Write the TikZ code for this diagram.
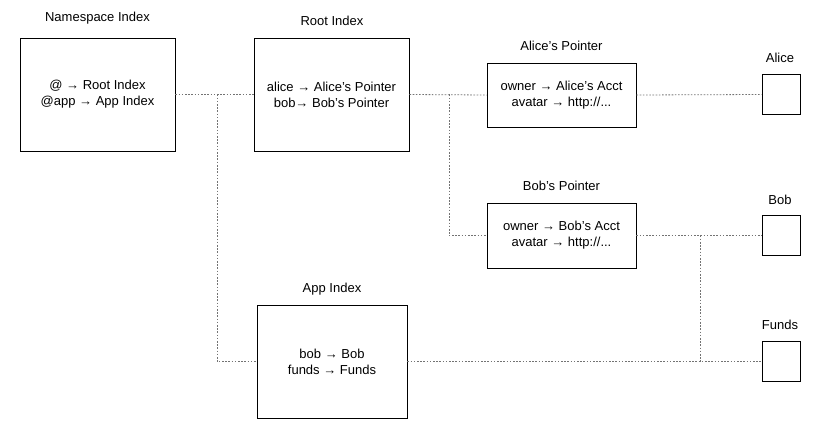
\documentclass[tikz,border=0pt]{standalone}
\usepackage{fontspec}
\setmainfont{Liberation Sans}
\begin{document}
\begin{tikzpicture}[x=1pt,y=-1pt,
  box/.style={draw=black,line width=0.9pt,rectangle,inner sep=0pt,align=center,font=\fontsize{13}{16}\selectfont},
  ttl/.style={inner sep=0pt,font=\fontsize{13}{16}\selectfont},
  conn/.style={draw=black!55,line width=0.8pt,dash pattern=on 1.6pt off 1.6pt}]
\useasboundingbox (0,0) rectangle (815,436);
\node[box,minimum width=155pt,minimum height=113pt] (ns) at (97.5,94.5) {@ → Root Index\\@app → App Index};
\node[box,minimum width=155pt,minimum height=113pt] (root) at (331.5,94.5) {alice → Alice’s Pointer\\bob→ Bob’s Pointer};
\node[box,minimum width=149pt,minimum height=64pt] (ap) at (561.5,95) {owner → Alice’s Acct\\avatar → http://...};
\node[box,minimum width=149pt,minimum height=65pt] (bp) at (561.5,235.5) {owner → Bob’s Acct\\avatar → http://...};
\node[box,minimum width=150pt,minimum height=113pt] (app) at (332,361.5) {bob → Bob\\funds → Funds};
\node[box,minimum width=38pt,minimum height=40pt] (alice) at (781,94.5) {};
\node[box,minimum width=38pt,minimum height=40pt] (bob) at (781,235.5) {};
\node[box,minimum width=38pt,minimum height=40pt] (funds) at (781,361.5) {};
\node[ttl] (tns) at (97.5,18) {Namespace Index};
\node[ttl] (troot) at (332,21) {Root Index};
\node[ttl] (tap) at (561.5,46) {Alice’s Pointer};
\node[ttl] (tbp) at (561.5,186) {Bob’s Pointer};
\node[ttl] (tapp) at (332,289) {App Index};
\node[ttl] (talice) at (780,58) {Alice};
\node[ttl] (tbob) at (780,200) {Bob};
\node[ttl] (tfunds) at (780,325) {Funds};
\coordinate (j1) at (217,94.5);
\coordinate (j2) at (449,94.5);
\coordinate (j3) at (700,235.5);
\draw[conn] (ns.east) -- (root.west);
\draw[conn] (j1) |- (app.west);
\draw[conn] (root.east) -- (ap.west);
\draw[conn] (j2) |- (bp.west);
\draw[conn] (ap.east) -- (alice.west);
\draw[conn] (bp.east) -- (bob.west);
\draw[conn] (app.east) -- (funds.west);
\draw[conn] (j3) -- (j3 |- funds.west);
\end{tikzpicture}
\end{document}
